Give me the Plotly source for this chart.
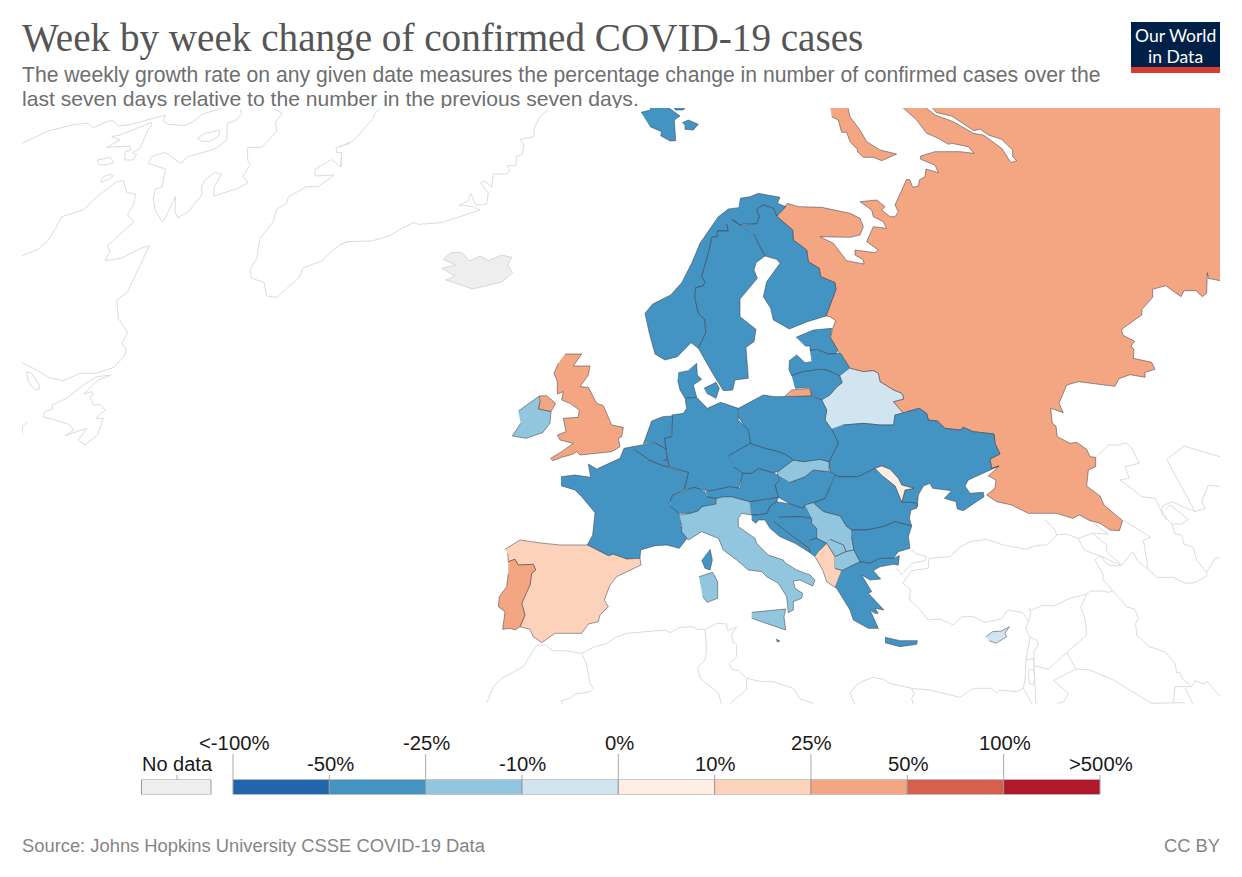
import plotly.graph_objects as go

PAGE_W, PAGE_H = 1242, 877


def crop(ox, oy, pts):
    return [(ox + x / 3, oy + y / 3) for x, y in pts]


# ---------------- weekly-growth classes ----------------
CLASS_COLOURS = ["#2166ac", "#4393c3", "#92c5de", "#d1e5f0", "#feeee3",
                 "#fdd2bb", "#f4a582", "#d6604d", "#b2182b"]
CLASS_EDGES = ["<-100%", "-50%", "-25%", "-10%", "0%", "10%", "25%", "50%", "100%", ">500%"]
NO_DATA_COLOUR = "#eeeeee"

# class index per country (1 = -50..-25 %, 2 = -25..-10 %, 3 = -10..0 %, 4 = 0..10 %, 5 = 10..25 %, 6 = 25..50 %)
COUNTRY_CLASS = {
    "Russia": 6, "Kaliningrad": 6, "Novaya Zemlya": 6, "United Kingdom": 6, "Northern Ireland": 6, "Portugal": 6,
    "Spain": 5, "Albania": 5, "Moldova": 4, "Belarus": 3, "Cyprus": 3,
    "Ireland": 2, "Italy": 2, "Sicily": 2, "Sardinia": 2, "Slovakia": 2, "Serbia": 2, "Kosovo": 2, "North Macedonia": 2,
    "Norway": 1, "Sweden": 1, "Finland": 1, "Denmark": 1, "Zealand": 1, "Svalbard": 1, "Svalbard E": 1, "Svalbard N": 1,
    "Estonia": 1, "Latvia": 1, "Lithuania": 1, "Poland": 1, "Germany": 1, "Netherlands": 1, "Belgium": 1,
    "Luxembourg": 1, "France": 1, "Corsica": 1, "Switzerland": 1, "Austria": 1, "Czechia": 1, "Hungary": 1,
    "Slovenia": 1, "Croatia": 1, "Bosnia": 1, "Montenegro": 1, "Romania": 1, "Bulgaria": 1, "Greece": 1,
    "Crete": 1, "Ukraine": 1, "Malta": 1,
}

# ---------------- outlines of countries with data ----------------
OUTLINES = {
    "Russia": crop(880, 360, [(70, 160), (40, 125), (70, 118), (70, 110), (40, 95), (0, 70)])
    + crop(820, 100, [(250, 890), (245, 880), (220, 870), (180, 845), (175, 820), (160, 812), (130, 815), (90, 805),
                      (58, 760), (50, 745), (32, 713), (37, 688), (47, 662), (30, 650), (18, 648)])
    + crop(630, 100, [(618, 568), (615, 548), (572, 530), (568, 505), (535, 485), (530, 450), (490, 420), (488, 390),
                      (440, 350), (472, 310), (505, 320), (575, 322), (660, 340), (690, 355), (700, 380), (690, 405),
                      (660, 412), (570, 410), (610, 430), (650, 482), (702, 492), (700, 480), (675, 465), (675, 450),
                      (735, 458), (745, 450), (710, 425), (730, 380), (770, 385), (760, 365), (730, 350), (725, 330),
                      (690, 305), (740, 300), (765, 320), (755, 330), (780, 350), (795, 350), (805, 335), (795, 315),
                      (830, 238), (840, 240), (848, 262), (865, 258), (868, 240), (885, 230), (888, 207)])
    + crop(820, 100, [(355, 218), (345, 195), (302, 178), (302, 168), (345, 155), (420, 155), (462, 160), (445, 140),
                      (395, 130), (385, 133), (355, 115), (320, 100), (290, 60), (240, 15), (307, 15), (345, 45),
                      (400, 65), (460, 100), (490, 105), (545, 145), (573, 188), (590, 182), (578, 170), (578, 150),
                      (545, 118), (505, 105), (480, 87), (462, 92), (415, 62), (395, 48), (350, 38), (330, 15),
                      (1215, 15), (1215, 545), (1165, 535), (1162, 518), (1160, 580), (1147, 590), (1128, 572),
                      (1092, 572), (1083, 590), (1037, 557), (998, 568), (998, 592), (966, 628), (965, 645),
                      (905, 688), (908, 705), (944, 724), (933, 738), (942, 748), (940, 775), (995, 787), (1005, 808),
                      (975, 817), (975, 832), (930, 824), (897, 836), (885, 859), (775, 845), (740, 855), (722, 900)])
    + crop(880, 360, [(537, 130), (550, 158), (512, 145), (517, 190), (528, 198), (532, 230), (570, 250), (590, 247),
                      (620, 268), (630, 290), (647, 292), (647, 320), (625, 330), (620, 378), (660, 408), (672, 435),
                      (728, 482), (718, 512), (690, 510), (660, 490), (630, 482), (598, 465), (578, 475), (530, 460),
                      (445, 460), (395, 435), (350, 425), (320, 405), (345, 385), (348, 360), (325, 348), (357, 318),
                      (335, 325), (330, 297), (360, 282), (345, 250), (342, 222), (280, 215), (250, 202), (240, 210),
                      (195, 205), (172, 183), (145, 180), (140, 160), (118, 145), (80, 155)]),
    "Novaya Zemlya": crop(820, 100, [(30, 15), (82, 15), (90, 50), (120, 90), (140, 125), (180, 150), (230, 162),
                                     (185, 182), (160, 172), (130, 172), (112, 155), (112, 148), (90, 125), (80, 97),
                                     (65, 97), (55, 60), (35, 50)]),
    "Kaliningrad": crop(630, 380, [(463, 50), (485, 30), (538, 25), (545, 48), (500, 50)]),
    "Norway": crop(630, 100, [(330, 295), (360, 290), (385, 280), (450, 292), (442, 310), (468, 320), (440, 348),
                              (430, 325), (400, 315), (380, 328), (388, 350), (380, 372), (340, 372), (330, 375),
                              (305, 358), (290, 372), (295, 393), (262, 393), (262, 410), (245, 412), (238, 450),
                              (215, 530), (225, 545), (220, 558), (197, 563), (195, 595), (205, 640), (225, 660),
                              (227, 700), (205, 745), (183, 728), (142, 770), (105, 780), (75, 762), (58, 700),
                              (45, 640), (68, 612), (122, 585), (155, 548), (185, 490), (210, 430), (265, 350),
                              (295, 327), (325, 323)]),
    "Sweden": crop(630, 100, [(305, 358), (372, 402), (390, 440), (405, 468), (378, 488), (372, 510), (382, 535),
                              (330, 597), (330, 650), (378, 688), (372, 725), (348, 742), (355, 835), (315, 840),
                              (308, 870), (280, 872), (245, 815), (205, 745), (227, 700), (225, 660), (205, 640),
                              (195, 595), (197, 563), (220, 558), (225, 545), (215, 530), (238, 450), (245, 412),
                              (262, 410), (262, 393), (295, 393), (290, 372)]),
    "Finland": crop(630, 100, [(305, 358), (330, 375), (380, 372), (388, 350), (380, 328), (400, 315), (430, 325),
                               (440, 348), (488, 390), (490, 420), (530, 450), (535, 485), (568, 505), (572, 530),
                               (615, 548), (618, 568), (588, 648), (532, 665), (478, 687), (430, 660), (422, 625),
                               (400, 590), (410, 545), (450, 490), (440, 478), (405, 468), (390, 440), (372, 402)]),
    "Denmark": crop(480, 340, [(595, 98), (625, 92), (650, 70), (652, 105), (665, 118), (640, 135), (650, 172),
                               (615, 175), (600, 150), (593, 120)]),
    "Zealand": crop(480, 340, [(672, 145), (708, 127), (718, 145), (708, 175), (680, 160)]),
    "Svalbard": crop(630, 100, [(33, 37), (62, 30), (60, 15), (105, 15), (150, 48), (133, 60), (137, 122), (120, 123),
                                (92, 107), (95, 95), (60, 80)]),
    "Svalbard E": crop(630, 100, [(157, 68), (175, 60), (205, 73), (190, 90), (165, 88), (165, 78)]),
    "Svalbard N": crop(630, 100, [(125, 15), (172, 15), (160, 30), (135, 30)]),
    "Estonia": crop(630, 100, [(498, 712), (550, 690), (605, 685), (600, 712), (623, 750), (618, 762), (595, 762),
                               (560, 748), (540, 752), (540, 738), (525, 738)]),
    "Latvia": crop(630, 100, [(540, 752), (560, 748), (595, 762), (618, 762), (632, 760), (660, 805), (630, 828),
                              (590, 810), (570, 808), (520, 815), (485, 827), (477, 810), (478, 782), (500, 765),
                              (525, 788), (545, 785)]),
    "Lithuania": crop(630, 100, [(485, 827), (520, 815), (570, 808), (590, 810), (630, 828), (637, 848), (620, 862),
                                 (605, 893), (575, 900), (545, 885), (540, 862), (495, 865)]),
    "Belarus": crop(820, 100, [(90, 805), (130, 815), (160, 812), (175, 820), (180, 845), (220, 870), (245, 880),
                               (250, 890)])
    + crop(630, 380, [(820, 57), (790, 65), (820, 100), (795, 105), (795, 135), (750, 135), (700, 130), (640, 135),
                      (605, 148), (585, 120), (590, 90), (575, 60), (600, 45)])
    + crop(630, 100, [(620, 862), (637, 848), (630, 828)]),
    "Ukraine": crop(630, 380, [(605, 148), (625, 190), (597, 245), (600, 275), (625, 290), (685, 290), (735, 265),
                               (755, 258), (780, 268), (805, 295), (815, 315), (852, 325), (825, 330), (815, 367)])
    + crop(880, 360, [(90, 430), (108, 428), (112, 440), (115, 405), (130, 378), (150, 370), (158, 385), (215, 392),
                      (193, 415), (228, 425), (232, 447), (250, 452), (312, 410), (310, 397), (270, 400), (255, 378),
                      (265, 360), (322, 335), (357, 318), (335, 325), (330, 297), (360, 282), (345, 250), (342, 222),
                      (280, 215), (250, 202), (240, 210), (195, 205), (172, 183), (145, 180), (140, 160), (118, 145),
                      (80, 155), (45, 165), (40, 195), (0, 195)])
    + crop(630, 380, [(750, 135), (700, 130), (640, 135)]),
    "Moldova": crop(630, 380, [(735, 265), (755, 258), (780, 268), (805, 295), (815, 315), (852, 325), (825, 330),
                               (815, 367), (802, 335), (795, 318), (760, 290)]),
    "Romania": crop(630, 380, [(615, 285), (625, 290), (685, 290), (735, 265), (760, 290), (795, 318), (802, 335),
                               (815, 367), (845, 367), (862, 372), (860, 385), (843, 390), (838, 415), (845, 438),
                               (795, 425), (760, 440), (710, 450), (665, 450), (650, 440), (630, 408), (580, 395),
                               (550, 368), (585, 355), (600, 320)]),
    "Hungary": crop(630, 380, [(443, 285), (480, 307), (525, 290), (550, 270), (597, 275), (615, 285), (600, 320),
                               (585, 355), (550, 368), (525, 375), (520, 385), (480, 372), (445, 352), (435, 315),
                               (448, 300)]),
    "Slovakia": crop(630, 380, [(443, 285), (443, 275), (490, 240), (520, 245), (570, 238), (597, 245), (597, 275),
                                (550, 270), (525, 290), (480, 307)]),
    "Poland": crop(630, 380, [(325, 85), (400, 45), (435, 50), (463, 50), (500, 50), (545, 48), (575, 60), (590, 90),
                              (585, 120), (605, 148), (625, 190), (597, 245), (570, 238), (520, 245), (490, 240),
                              (470, 225), (445, 215), (425, 210), (405, 205), (360, 190), (350, 170), (345, 140),
                              (325, 110)]),
    "Germany": crop(480, 340, [(575, 225), (610, 220), (620, 205), (615, 175), (650, 172), (682, 205), (722, 187),
                               (775, 205), (775, 240), (805, 270), (812, 310), (745, 348), (762, 375), (790, 397),
                               (775, 447), (730, 445), (695, 455), (640, 443), (612, 450), (625, 397), (567, 380),
                               (562, 358), (558, 328), (553, 295), (575, 290)]),
    "Netherlands": crop(480, 340, [(490, 312), (515, 243), (548, 230), (578, 228), (575, 290), (553, 295), (558, 328),
                                   (525, 308)]),
    "Belgium": crop(480, 340, [(457, 320), (525, 308), (558, 328), (562, 358), (550, 362), (550, 378), (510, 362),
                               (465, 330)]),
    "Luxembourg": crop(480, 340, [(550, 362), (562, 358), (567, 380), (550, 378)]),
    "France": crop(480, 340, [(243, 410), (285, 405), (332, 412), (325, 372), (350, 387), (420, 355), (432, 325),
                              (457, 320), (465, 330), (510, 362), (550, 378), (625, 397), (612, 450), (590, 460),
                              (568, 490), (595, 518), (610, 545), (600, 555), (625, 590), (598, 625), (560, 615),
                              (525, 617), (482, 630), (480, 655), (440, 657), (420, 650), (400, 643), (385, 647),
                              (322, 615), (338, 585), (345, 518), (305, 470), (285, 450), (243, 437)]),
    "Spain": crop(480, 340, [(75, 628), (120, 600), (175, 608), (240, 615), (322, 615), (385, 647), (400, 643),
                             (420, 650), (440, 657), (480, 655), (483, 675), (410, 710), (390, 735), (373, 780),
                             (385, 800), (360, 825), (355, 845), (325, 852), (305, 880), (225, 880), (185, 908),
                             (160, 890), (150, 868), (120, 860), (135, 825), (125, 790), (135, 765), (150, 735),
                             (155, 700), (167, 690), (160, 673), (115, 675), (105, 658), (85, 665), (83, 640)]),
    "Portugal": crop(480, 340, [(85, 665), (105, 658), (115, 675), (160, 673), (167, 690), (155, 700), (150, 735),
                                (135, 765), (125, 790), (135, 825), (120, 860), (105, 870), (90, 865), (68, 868),
                                (75, 815), (55, 800), (58, 770), (80, 740), (85, 700)]),
    "United Kingdom": crop(480, 340, [(255, 42), (305, 42), (280, 78), (330, 78), (325, 105), (300, 140), (325, 142),
                                      (350, 190), (370, 197), (395, 255), (430, 262), (425, 290), (415, 295),
                                      (420, 320), (395, 335), (300, 345), (290, 335), (280, 342), (245, 352),
                                      (218, 362), (212, 355), (245, 335), (280, 310), (240, 300), (232, 285),
                                      (258, 275), (250, 235), (295, 232), (298, 210), (270, 190), (245, 180),
                                      (250, 155), (232, 162), (232, 125), (222, 100), (235, 70)]),
    "Northern Ireland": crop(480, 340, [(178, 168), (200, 167), (227, 190), (213, 215), (175, 207), (180, 185)]),
    "Ireland": crop(480, 340, [(115, 213), (178, 168), (180, 185), (175, 207), (213, 215), (210, 250), (188, 278),
                               (138, 295), (97, 288), (122, 250)]),
    "Italy": crop(630, 380, [(148, 405), (180, 400), (205, 392), (215, 380), (258, 355), (280, 350), (305, 350),
                             (360, 365), (365, 405), (335, 400), (325, 415), (325, 440), (375, 475), (380, 490),
                             (415, 525), (460, 540), (465, 548), (500, 570), (540, 585), (555, 600), (548, 618),
                             (510, 600), (490, 603), (495, 625), (518, 640), (515, 655), (490, 665), (490, 690),
                             (475, 698), (470, 650), (445, 610), (410, 590), (395, 575), (355, 570), (320, 540),
                             (280, 510), (265, 475), (215, 455), (175, 480), (155, 455), (155, 430)]),
    "Sicily": crop(630, 380, [(365, 697), (467, 687), (462, 710), (467, 750), (365, 715)]),
    "Sardinia": crop(630, 380, [(207, 590), (248, 577), (263, 605), (263, 655), (232, 667), (218, 650)]),
    "Corsica": crop(630, 380, [(240, 507), (247, 540), (240, 570), (225, 565), (215, 540)]),
    "Malta": crop(630, 380, [(438, 778), (449, 782), (446, 786), (440, 784)]),
    "Switzerland": crop(630, 380, [(120, 365), (128, 345), (155, 335), (195, 322), (225, 335), (230, 350), (258, 355),
                                   (258, 372), (215, 380), (205, 392), (180, 400), (148, 400), (122, 380)]),
    "Austria": crop(630, 380, [(228, 335), (250, 330), (300, 320), (330, 325), (338, 280), (365, 280), (385, 265),
                               (430, 278), (443, 285), (448, 300), (435, 315), (445, 352), (400, 360), (360, 365),
                               (305, 350), (280, 350), (258, 355), (230, 350)]),
    "Czechia": crop(630, 380, [(295, 228), (360, 190), (405, 205), (425, 210), (445, 215), (470, 225), (490, 240),
                               (443, 275), (430, 278), (385, 265), (365, 280), (338, 280), (310, 260)]),
    "Slovenia": crop(630, 380, [(360, 365), (400, 360), (445, 352), (440, 365), (420, 378), (412, 400), (385, 405),
                                (365, 405)]),
    "Croatia": crop(630, 380, [(365, 405), (385, 405), (412, 400), (420, 378), (440, 365), (480, 372), (520, 385),
                               (525, 375), (545, 415), (510, 410), (445, 412), (432, 425), (470, 455), (538, 505),
                               (540, 518), (495, 490), (450, 470), (420, 445), (405, 420), (385, 420), (378, 430),
                               (365, 420)]),
    "Bosnia": crop(630, 380, [(445, 412), (510, 410), (545, 415), (545, 430), (560, 445), (560, 475), (540, 480),
                              (538, 505), (470, 455), (432, 425)]),
    "Serbia": crop(630, 380, [(525, 375), (550, 368), (580, 395), (630, 408), (650, 440), (665, 450), (665, 470),
                              (672, 510), (648, 515), (640, 495), (600, 478), (590, 490), (560, 475), (560, 445),
                              (545, 430), (545, 415)]),
    "Kosovo": crop(630, 380, [(600, 478), (640, 495), (648, 515), (615, 530), (590, 490)]),
    "Montenegro": crop(630, 380, [(540, 480), (560, 475), (590, 490), (570, 510), (555, 530), (540, 518), (538, 505)]),
    "Albania": crop(630, 380, [(570, 510), (590, 490), (615, 530), (615, 565), (635, 572), (615, 622), (590, 605),
                               (578, 570), (555, 530)]),
    "North Macedonia": crop(630, 380, [(615, 530), (648, 515), (672, 510), (690, 545), (640, 572), (615, 565)]),
    "Bulgaria": crop(630, 380, [(665, 450), (710, 450), (760, 440), (795, 425), (845, 438), (835, 470), (840, 505),
                                (805, 515), (790, 535), (750, 535), (720, 550), (690, 545), (672, 510), (665, 470)]),
    "Greece": crop(630, 380, [(635, 572), (690, 545), (720, 550), (750, 535), (790, 535), (808, 527), (805, 555),
                              (790, 553), (750, 560), (730, 572), (752, 597), (720, 600), (695, 585), (725, 635),
                              (715, 640), (762, 690), (735, 685), (745, 700), (735, 700), (720, 690), (745, 745),
                              (715, 745), (670, 720), (660, 690), (620, 625), (615, 622)]),
    "Crete": crop(860, 520, [(75, 352), (120, 362), (172, 362), (170, 373), (120, 380), (75, 368)]),
    "Cyprus": crop(860, 520, [(378, 350), (398, 335), (425, 333), (448, 320), (435, 340), (440, 350), (408, 370),
                              (388, 362)]),
}

ICELAND = crop(340, 100, [(310, 478), (332, 458), (365, 457), (388, 483), (422, 468), (445, 482), (485, 465),
                          (515, 472), (503, 495), (518, 518), (488, 545), (398, 567), (318, 540), (345, 528),
                          (305, 505), (347, 495), (310, 478)])

# ---------------- thin grey outlines of the land without colour ----------------
GREY_LINES = [
    crop(20, 105, [(5, 115), (85, 78), (165, 58), (205, 55), (220, 68), (265, 48), (280, 48), (295, 63), (325, 60),
                   (437, 30), (430, 48), (445, 58), (495, 62), (520, 50), (545, 28), (605, 10)]),
    crop(20, 105, [(395, 52), (300, 90), (275, 95), (300, 105), (260, 127), (330, 123), (332, 135), (315, 140),
                   (315, 165), (340, 165), (350, 148), (337, 143), (360, 130), (385, 72), (395, 62), (395, 52)]),
    crop(20, 105, [(532, 100), (555, 85), (600, 75), (595, 95), (565, 110), (545, 108), (532, 100)]),
    crop(20, 105, [(232, 165), (270, 157), (282, 172), (265, 178), (237, 180), (232, 165)]),
    crop(20, 105, [(243, 228), (250, 215), (270, 208), (280, 213), (262, 225), (243, 232)]),
    crop(20, 105, [(660, 12), (665, 25), (650, 45), (622, 55), (620, 105), (585, 132), (505, 155), (482, 175),
                   (435, 142), (395, 155), (385, 175), (437, 192), (425, 247), (407, 252), (400, 280), (405, 315),
                   (428, 352), (445, 320), (467, 273), (465, 320), (473, 338), (505, 320), (545, 270), (545, 245),
                   (557, 222), (585, 202), (605, 208), (583, 245), (582, 273), (655, 250), (685, 233), (668, 215),
                   (690, 180), (683, 165), (683, 127), (725, 127), (770, 80), (767, 50), (787, 25), (762, 12)]),
    crop(20, 105, [(6, 452), (55, 432), (85, 405), (107, 370), (125, 335), (190, 315), (225, 280), (290, 230),
                   (310, 227), (320, 262), (347, 268), (340, 300), (322, 330), (342, 350), (262, 422), (270, 440),
                   (255, 467), (303, 460), (362, 430), (388, 422), (322, 562), (290, 585), (295, 640), (323, 682),
                   (305, 715), (318, 730), (315, 750), (282, 787), (228, 805), (180, 805), (130, 827), (88, 818),
                   (50, 795), (6, 773)]),
    crop(20, 105, [(273, 810), (230, 815), (190, 840), (140, 880), (97, 900), (97, 912), (75, 920), (70, 935),
                   (145, 957), (162, 975), (135, 992), (200, 970), (175, 1005), (195, 1020), (232, 990), (250, 940),
                   (228, 940), (255, 915), (240, 898), (220, 900), (210, 875), (220, 868), (215, 860), (190, 867),
                   (235, 825), (273, 810)]),
    crop(20, 105, [(20, 800), (35, 805), (58, 840), (58, 853), (45, 855), (25, 830), (20, 800)]),
    crop(20, 105, [(22, 950), (8, 965), (5, 995)]),
    crop(20, 105, [(990, 115), (948, 128), (950, 143), (965, 143), (962, 187), (935, 163), (885, 193), (885, 213),
                   (943, 210), (895, 245), (860, 245), (805, 275), (800, 295), (770, 312), (760, 350), (720, 400),
                   (710, 460), (690, 495), (695, 520), (732, 532), (740, 573), (770, 577), (838, 517), (850, 488),
                   (905, 468), (945, 430), (975, 412), (990, 410)]),
    crop(340, 100, [(0, 140), (40, 122), (100, 55), (105, 40), (120, 27)]),
    crop(340, 100, [(5, 155), (3, 200)]),
    crop(340, 100, [(0, 435), (20, 425), (95, 423), (150, 407), (195, 380), (222, 368), (235, 373), (305, 368),
                    (420, 330), (400, 320), (358, 315), (385, 302), (392, 280), (408, 315), (440, 312), (445, 280),
                    (422, 248), (435, 243), (455, 262), (460, 222), (500, 222), (510, 210), (500, 197), (528, 197),
                    (530, 168), (545, 165), (552, 135), (540, 118), (582, 110), (582, 85), (600, 50), (625, 27)]),
    crop(480, 600, [(20, 310), (40, 260), (65, 235), (130, 200), (170, 135), (195, 135), (218, 152), (255, 152),
                    (305, 160), (345, 140), (378, 132), (410, 110), (440, 100), (555, 90), (570, 98), (600, 82),
                    (640, 80), (650, 88), (675, 88), (710, 70), (740, 72), (742, 92), (770, 80), (755, 105),
                    (758, 125), (770, 135), (770, 170), (748, 190), (755, 208), (775, 212), (800, 235), (845, 245),
                    (880, 245), (940, 265), (960, 297), (1000, 310)]),
    crop(480, 600, [(305, 160), (320, 195), (330, 250), (340, 265), (330, 275), (285, 282), (270, 295), (245, 302),
                    (245, 315)]),
    crop(480, 600, [(675, 88), (680, 150), (675, 180), (653, 203), (660, 235), (690, 260), (715, 278), (725, 315)]),
    crop(480, 600, [(800, 235), (800, 268), (775, 290), (750, 310)]),
    crop(480, 600, [(1125, 315), (1110, 280), (1130, 255), (1145, 245)])
    + crop(860, 520, [(40, 472), (70, 478), (90, 490), (155, 505), (210, 510), (300, 532), (340, 505), (395, 505),
                      (410, 520), (418, 510), (470, 515), (490, 505), (518, 555)]),
    crop(860, 520, [(155, 505), (162, 520), (155, 535), (160, 555)]),
    crop(860, 520, [(158, 88), (165, 100), (198, 110), (195, 122), (155, 130), (125, 165), (110, 145)]),
    crop(860, 520, [(205, 145), (155, 152), (128, 190), (152, 208), (148, 240), (175, 262), (205, 300), (240, 297),
                    (280, 315), (305, 290), (340, 290), (375, 307), (425, 297), (442, 270), (488, 278), (505, 305),
                    (512, 280), (508, 265), (515, 270), (550, 255), (580, 258), (630, 235), (680, 222), (690, 213),
                    (735, 213), (745, 218), (758, 212), (730, 180), (728, 160), (705, 120), (718, 107), (745, 135),
                    (770, 138), (785, 135), (818, 95), (835, 125), (862, 145), (890, 172), (940, 172), (975, 190),
                    (1005, 188), (1040, 168), (1040, 155), (1065, 115), (1080, 113)]),
    crop(860, 520, [(205, 145), (207, 115), (270, 110), (300, 82), (330, 65), (380, 58), (430, 75), (498, 88),
                    (530, 76), (560, 75), (590, 45), (618, 42), (655, 55), (672, 90), (718, 107), (780, 135)]),
    crop(860, 520, [(555, 0), (585, 30), (590, 45)]),
    crop(860, 520, [(655, 55), (697, 40), (745, 42), (720, 25), (700, 10)]),
    crop(860, 520, [(697, 40), (720, 60), (740, 75), (740, 95), (775, 125), (785, 135)]),
    crop(860, 520, [(790, 0), (855, 42), (872, 52), (850, 60), (862, 130), (862, 145)]),
    crop(860, 520, [(935, 10), (945, 42), (965, 45), (972, 72), (1000, 82), (1010, 120), (1040, 158)]),
    crop(880, 360, [(647, 292), (685, 255), (715, 255), (738, 248), (755, 265), (778, 310), (735, 320), (748, 355),
                    (720, 360), (735, 370), (785, 410), (825, 415), (840, 445), (850, 470), (875, 490)]),
    crop(880, 360, [(860, 298), (912, 258), (1020, 290)]),
    crop(880, 360, [(860, 298), (945, 455), (975, 445), (965, 425), (985, 375), (1020, 380)]),
    crop(880, 360, [(945, 455), (900, 437), (875, 425), (850, 437), (845, 450), (862, 480)]),
    crop(880, 360, [(855, 450), (870, 435), (925, 478), (905, 492), (875, 492)]),
    crop(860, 520, [(505, 305), (497, 325), (510, 352), (498, 420), (495, 480), (490, 505)]),
    crop(860, 520, [(510, 352), (530, 360), (535, 375), (522, 395), (522, 437), (528, 555)]),
    crop(860, 520, [(498, 420), (520, 415), (522, 437)]),
    crop(860, 520, [(505, 450), (520, 448), (525, 475), (520, 495), (508, 490), (505, 450)]),
    crop(860, 520, [(680, 222), (662, 262), (675, 295), (680, 345), (620, 398), (565, 448), (522, 437)]),
    crop(860, 520, [(620, 398), (648, 447), (580, 482), (625, 520), (612, 545), (590, 550)]),
    crop(860, 520, [(758, 212), (800, 260), (825, 268), (835, 295), (827, 310), (830, 345), (868, 380), (915, 395),
                    (945, 430), (950, 458), (960, 458), (970, 480), (995, 500)]),
    crop(860, 520, [(648, 447), (690, 450), (760, 480), (875, 550), (975, 548)]),
    crop(860, 520, [(995, 500), (945, 500), (940, 548)]),
    crop(860, 520, [(975, 505), (1000, 555)]),
    crop(860, 520, [(995, 500), (1005, 482), (1030, 492), (1042, 485), (1085, 535)]),
]

TITLE = "Week by week change of confirmed COVID-19 cases"
SUBTITLE_1 = "The weekly growth rate on any given date measures the percentage change in number of confirmed cases over the"
SUBTITLE_2 = "last seven days relative to the number in the previous seven days."
SOURCE = "Source: Johns Hopkins University CSSE COVID-19 Data"
LICENCE = "CC BY"
NO_DATA = "No data"

# ---------------- figure ----------------
fig = go.Figure()


def unzip(points):
    return [p[0] for p in points], [p[1] for p in points]


for line in GREY_LINES:
    xs, ys = unzip(line)
    fig.add_trace(go.Scatter(x=xs, y=ys, mode="lines", line=dict(color="#dcdcdc", width=1), hoverinfo="skip"))

xs, ys = unzip(ICELAND)
fig.add_trace(go.Scatter(x=xs, y=ys, mode="lines", fill="toself", fillcolor=NO_DATA_COLOUR,
                         line=dict(color="#cfcfcf", width=0.8), name="Iceland"))

for name, pts in OUTLINES.items():
    xs, ys = unzip(pts)
    fig.add_trace(go.Scatter(x=xs, y=ys, mode="lines", fill="toself",
                             fillcolor=CLASS_COLOURS[COUNTRY_CLASS[name]],
                             line=dict(color="rgba(60,60,70,0.65)", width=0.8), name=name))

# legend strip, on its own scale of class numbers
LEG_X0, LEG_STEP = 233.0, 96.33
fig.add_trace(go.Bar(x=[1] * len(CLASS_COLOURS), base=list(range(len(CLASS_COLOURS))), y=[0.5] * len(CLASS_COLOURS),
                     orientation="h", width=1, xaxis="x2", yaxis="y2", hoverinfo="skip",
                     marker=dict(color=CLASS_COLOURS, line=dict(color="#999999", width=1))))
NODATA_LEFT, NODATA_RIGHT = (141.5 - LEG_X0) / LEG_STEP, (211 - LEG_X0) / LEG_STEP
fig.add_trace(go.Bar(x=[NODATA_RIGHT - NODATA_LEFT], base=[NODATA_LEFT], y=[0.5], orientation="h", width=1,
                     xaxis="x2", yaxis="y2", hoverinfo="skip",
                     marker=dict(color=NO_DATA_COLOUR, line=dict(color="#999999", width=1))))

# second subtitle line: the map panel cuts its descenders, so it is clipped by an axis ending where the map starts
fig.add_trace(go.Scatter(x=[22], y=[101], mode="text", text=[SUBTITLE_2], textposition="middle right",
                         cliponaxis=True, xaxis="x3", yaxis="y3", hoverinfo="skip",
                         textfont=dict(size=21.1, color="#6e6e6e", family="Liberation Sans")))


def py(y):
    return 1 - y / PAGE_H


annotations = []
shapes = []


def text(s, x, y, size, colour, anchor="left", font="Liberation Sans", xref="paper"):
    annotations.append(dict(text=s, x=x / PAGE_W if xref == "paper" else x, y=py(y), xref=xref, yref="paper",
                            xanchor=anchor, yanchor="middle", showarrow=False, borderpad=0,
                            font=dict(size=size, color=colour, family=font)))


text(TITLE, 20.5, 38, 39.15, "#555555", font="Liberation Serif")
text(SUBTITLE_1, 21, 75, 21.16, "#6e6e6e")
text(SOURCE, 21, 845, 18.35, "#858585")
text(LICENCE, 1221, 845, 18.35, "#858585", anchor="right")

for i, label in enumerate(CLASS_EDGES):
    tall = i % 2 == 0
    text(label, i + 0.01, 743 if tall else 764, 20.3, "#1a1a1a", anchor="center", xref="x2")
    shapes.append(dict(type="line", xref="x2", yref="paper", x0=i, x1=i, y0=py(754 if tall else 775), y1=py(780),
                       line=dict(color="#a8a8a8", width=1)))
text(NO_DATA, 177, 764, 20, "#1a1a1a", anchor="center")
shapes.append(dict(type="line", xref="paper", yref="paper", x0=177 / PAGE_W, x1=177 / PAGE_W, y0=py(775), y1=py(780),
                   line=dict(color="#a8a8a8", width=1)))

# logo
shapes.append(dict(type="rect", xref="paper", yref="paper", x0=1131 / PAGE_W, x1=1220 / PAGE_W, y0=py(22), y1=py(67),
                   fillcolor="#002147", line=dict(width=0)))
shapes.append(dict(type="rect", xref="paper", yref="paper", x0=1131 / PAGE_W, x1=1220 / PAGE_W, y0=py(67), y1=py(73),
                   fillcolor="#d73c32", line=dict(width=0)))
text("Our World", 1175.5, 35.5, 17.5, "#ffffff", anchor="center", font="Lato")
text("in Data", 1175.5, 56, 17.5, "#ffffff", anchor="center", font="Lato")

hidden = dict(visible=False, showgrid=False, zeroline=False, fixedrange=True)
fig.update_layout(
    width=PAGE_W, height=PAGE_H, margin=dict(l=0, r=0, t=0, b=0), showlegend=False, barmode="overlay",
    paper_bgcolor="#ffffff", plot_bgcolor="rgba(0,0,0,0)", annotations=annotations, shapes=shapes,
    xaxis=dict(domain=[22 / PAGE_W, 1220 / PAGE_W], range=[22, 1220], **hidden),
    yaxis=dict(domain=[py(704), py(108)], range=[704, 108], **hidden),
    xaxis2=dict(domain=[0, 1], range=[-LEG_X0 / LEG_STEP, (PAGE_W - LEG_X0) / LEG_STEP], anchor="y2", **hidden),
    yaxis2=dict(domain=[py(794.5), py(779.5)], range=[0, 1], anchor="x2", **hidden),
    xaxis3=dict(domain=[0, 1], range=[0, PAGE_W], anchor="y3", **hidden),
    yaxis3=dict(domain=[py(108), py(86)], range=[108, 86], anchor="x3", **hidden),
)
fig.write_html("out.html", config=dict(displayModeBar=False), post_script="document.body.style.margin='0';")
